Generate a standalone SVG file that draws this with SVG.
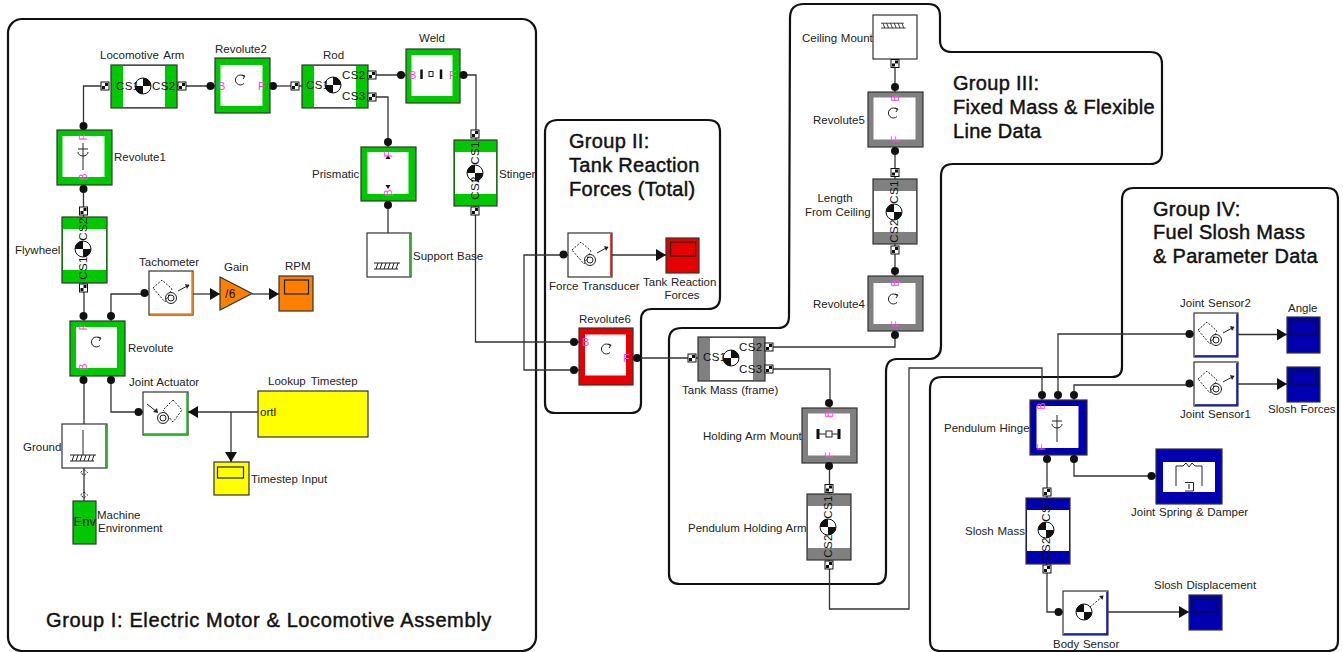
<svg xmlns="http://www.w3.org/2000/svg" width="1343" height="652" viewBox="0 0 1343 652">
<style>
text{font-family:"Liberation Sans",Arial,sans-serif;fill:#222}
.t{font-size:11.5px;word-spacing:.5px}
.c{font-size:11.5px;letter-spacing:.4px;fill:#111}
.p{font-size:11px;fill:#ff40e0}
.h{font-size:20px;stroke:#111;stroke-width:.45px;letter-spacing:.3px;fill:#111}
.wide{letter-spacing:.62px}
.o{stroke:#333;stroke-width:1.2px}
.g{fill:#00c800}.r{fill:#e60000}.k{fill:#808080}.b{fill:#0000b0}.w{fill:#fff}.y{fill:#ffff00}.n{fill:#ff8000}
.in{fill:#fff;stroke:none}
.l{fill:none;stroke:#333;stroke-width:1.3px}
.a{marker-end:url(#arrow)}
.grp{fill:none;stroke:#111;stroke-width:2.2px}
.i{fill:none;stroke:#222;stroke-width:1px}
.d{fill:none;stroke:#222;stroke-width:1px;stroke-dasharray:2 1.5}
</style>
<defs>
<marker id="arrow" markerUnits="userSpaceOnUse" markerWidth="11" markerHeight="12" refX="10" refY="6" orient="auto"><path d="M0,0L10,6L0,12Z" fill="#111"/></marker>
<g id="dot"><circle r="4" fill="#111"/></g>
<g id="port"><rect x="-4" y="-4" width="8" height="8" fill="#fff" stroke="#111"/><rect x="-3" y="0" width="3" height="3" fill="#111"/><rect x="0" y="-3" width="3" height="3" fill="#111"/></g>
<g id="cg"><circle r="8" fill="#fff" stroke="#111"/><path d="M0,0V-8A8,8 0 0 1 8,0ZM0,0V8A8,8 0 0 1 -8,0Z" fill="#111"/></g>
<g id="rev"><path d="M4,-3.5A5,5 0 1 0 4,3.5" class="i"/><path d="M2,-5L5,-4L3,-1" class="i"/></g>
<g id="axis"><path d="M0,0V27M-5,6H5M-5,9A5,4 0 0 0 5,9" class="i" stroke-width="1.3"/></g>
<g id="sensor"><path d="M4,17L13,9L23,18L16,31Z" class="d"/><circle cx="22" cy="27" r="5.5" class="i"/><circle cx="22" cy="27" r="3" class="i"/><path d="M29,20L40,14" class="i"/><path d="M36,13L40.500,14L38,18" fill="#222"/></g>
<g id="act"><path d="M30,8L39,18L30,30L20,18Z" class="d"/><circle cx="20" cy="26" r="5.500" class="i"/><circle cx="20" cy="26" r="3" class="i"/><path d="M4,12L14,20" class="i"/><path d="M10,20L15,21L14,16" fill="#222"/></g>
<g id="hatch"><path d="M0,0H26M2,6L4,0M6,6L8,0M10,6L12,0M14,6L16,0M18,6L20,0M22,6L24,0" class="i"/><path d="M0,6H24" class="i"/></g>
</defs>
<g id="groups">
<rect id="group1" class="grp" x="8" y="19" width="528" height="632" rx="14"/>
<path id="group2" class="grp" d="M545,133Q545,120 558,120L708,120Q720,120 720,132L720,297Q720,309 708,309L652,309Q641,309 641,320L641,403Q641,413 631,413L555,413Q545,413 545,403Z"/>
<path id="group3" class="grp" d="M790,18Q790,4 804,4L928,4Q940,4 940,16L940,40Q940,52 952,52L1150,52Q1162,52 1162,64L1162,152Q1162,164 1150,164L953,164Q941,164 941,176L941,346Q941,358 930,359L897,359Q886,359 886,372L886,572Q886,584 876,584L680,584Q669,584 669,574L669,340Q669,328 682,328L778,328Q789,328 789,316Z"/>
<path id="group4" class="grp" d="M930,641L930,389Q930,377 942,377L1112,377Q1122,377 1122,367L1122,200Q1122,188 1134,188L1327,188Q1338,188 1338,200L1338,641Q1338,651 1328,651L940,651Q930,651 930,641Z"/>
</g>
<g id="connectors">
<path class="l" d="M83.500,126V86H105"/>
<path class="l" d="M83.500,185V217"/>
<path class="l" d="M177,86H215"/>
<path class="l" d="M270,86H302"/>
<path class="l" d="M368,75H406"/>
<path class="l" d="M368,97H388V147"/>
<path class="l" d="M388,201V233"/>
<path class="l" d="M460,75H476V140"/>
<path class="l" d="M475.500,206V342H579"/>
<path class="l" d="M579,370H524V255H568"/>
<path class="l a" d="M612,255H666"/>
<path class="l" d="M633,358H698"/>
<path class="l" d="M765,347H895V331"/>
<path class="l" d="M765,369H830V408"/>
<path class="l" d="M829.500,463V494"/>
<path class="l" d="M829.500,560V609H909V368H1042V400"/>
<path class="l" d="M1058,400V334H1194"/>
<path class="l" d="M1074,400V385H1194"/>
<path class="l a" d="M1238,334.500H1287"/>
<path class="l a" d="M1238,384H1287"/>
<path class="l" d="M1047,455V498"/>
<path class="l" d="M1074,455V476H1156"/>
<path class="l" d="M1047,564V612H1063"/>
<path class="l a" d="M1108,612H1189"/>
<path class="l" d="M895,59V92"/>
<path class="l" d="M895,147V179"/>
<path class="l" d="M895,244V276"/>
<path class="l" d="M84,283V321"/>
<path class="l" d="M111,321V294H149"/>
<path class="l a" d="M193,294H220"/>
<path class="l a" d="M252,294H279"/>
<path class="l" d="M84,376V424"/>
<path class="l" d="M111,376V412H143"/>
<path class="l a" d="M258,412H188"/>
<path class="l a" d="M231,412V462"/>
<path class="l" d="M84,468V501"/>
</g>
<g id="locomotive-arm"><text class="t" x="100" y="59" style="word-spacing:2px">Locomotive Arm</text><rect class="g o" x="111" y="65" width="66" height="43"/><rect class="in" x="123" y="66" width="42" height="41"/><use href="#cg" x="143" y="86"/><text class="c" x="116" y="90">CS1</text><text class="c" x="152" y="90">CS2</text><use href="#port" x="105" y="86"/><use href="#port" x="182" y="86"/></g>
<g id="revolute2"><text class="t" x="215" y="53">Revolute2</text><rect class="g o" x="215" y="58" width="55" height="55"/><rect class="in" x="220.500" y="65" width="42" height="41"/><use href="#rev" x="240" y="80"/><text class="p" x="218" y="90">B</text><text class="p" x="258" y="90">F</text><use href="#dot" x="210.500" y="86"/><use href="#dot" x="273" y="86"/></g>
<g id="rod"><text class="t" x="323" y="59">Rod</text><rect class="g o" x="302" y="65" width="66" height="43"/><rect class="in" x="314" y="66" width="42" height="41"/><use href="#cg" x="333" y="85"/><text class="c" x="306" y="89">CS1</text><text class="c" x="342" y="79">CS2</text><text class="c" x="342" y="100">CS3</text><use href="#port" x="295" y="86"/><use href="#port" x="372" y="75"/><use href="#port" x="372" y="97"/></g>
<g id="weld"><text class="t" x="419" y="42">Weld</text><rect class="g o" x="406" y="49" width="54" height="54"/><rect class="in" x="411.500" y="55" width="41" height="41"/><path d="M421.500,69.500V79M441,69.500V79" stroke="#111" stroke-width="2.500"/><rect class="i" x="429" y="71.500" width="4" height="5"/><text class="p" x="409" y="79">B</text><text class="p" x="449" y="79">F</text><use href="#dot" x="401" y="75"/><use href="#dot" x="463.500" y="75"/></g>
<g id="revolute1"><text class="t" x="114" y="161">Revolute1</text><rect class="g o" x="57" y="130" width="55" height="55"/><rect class="in" x="62.500" y="136" width="42" height="41"/><use href="#axis" x="83" y="143"/><text class="p" transform="rotate(-90 87 137)" x="87" y="137" text-anchor="middle">F</text><text class="p" transform="rotate(-90 87 177)" x="87" y="177" text-anchor="middle">B</text><use href="#dot" x="83.500" y="126"/><use href="#dot" x="83.500" y="189"/></g>
<g id="prismatic"><text class="t" x="312" y="178">Prismatic</text><rect class="g o" x="361" y="147" width="55" height="54"/><rect class="in" x="367.500" y="152" width="41" height="42"/><path d="M388,155L385.500,159H390.500ZM388,189L385.500,185H390.500Z" fill="#111"/><text class="p" transform="rotate(-90 392 154)" x="392" y="154" text-anchor="middle">F</text><text class="p" transform="rotate(-90 392 193)" x="392" y="193" text-anchor="middle">B</text><use href="#dot" x="388" y="142"/><use href="#dot" x="388" y="205"/></g>
<g id="stinger"><text class="t" x="499" y="178">Stinger</text><rect class="g o" x="454" y="140" width="43" height="66"/><rect class="in" x="455" y="152" width="41" height="42"/><use href="#cg" transform="translate(475 173) rotate(-90)"/><text class="c" transform="rotate(-90 479 153)" x="479" y="153" text-anchor="middle">CS1</text><text class="c" transform="rotate(-90 479 188)" x="479" y="188" text-anchor="middle">CS2</text><use href="#port" x="475" y="134"/><use href="#port" x="475" y="211"/></g>
<g id="support-base"><text class="t" x="413" y="260">Support Base</text><rect class="w o" x="367" y="233" width="44" height="44"/><path d="M409.800,234V276" stroke="#00c800" stroke-width="1.500"/><use href="#hatch" x="374" y="263"/></g>
<g id="flywheel"><text class="t" x="15" y="254">Flywheel</text><rect class="g o" x="62" y="217" width="45" height="66"/><rect class="in" x="63" y="229" width="43" height="41"/><use href="#cg" transform="translate(83 249) rotate(-90)"/><text class="c" transform="rotate(-90 87 229)" x="87" y="229" text-anchor="middle">CS2</text><text class="c" transform="rotate(-90 87 268)" x="87" y="268" text-anchor="middle">CS1</text><use href="#port" x="83.500" y="211"/><use href="#port" x="83.500" y="288"/></g>
<g id="revolute"><text class="t" x="128" y="352">Revolute</text><rect class="g o" x="70" y="321" width="55" height="55"/><rect class="in" x="76" y="327" width="41" height="41"/><use href="#rev" x="96" y="342"/><text class="p" transform="rotate(-90 87 327)" x="87" y="327" text-anchor="middle">F</text><text class="p" transform="rotate(-90 87 367)" x="87" y="367" text-anchor="middle">B</text><use href="#dot" x="83.500" y="316"/><use href="#dot" x="111" y="316"/><use href="#dot" x="83.500" y="380"/><use href="#dot" x="111" y="380"/></g>
<g id="tachometer"><text class="t" x="139" y="266">Tachometer</text><rect class="w o" x="149" y="271" width="44" height="44"/><path d="M192,272V314H150" fill="none" stroke="#ff8000" stroke-width="1.500"/><use href="#sensor" x="149" y="271"/><use href="#dot" x="144.500" y="293"/></g>
<g id="gain"><text class="t" x="224" y="271">Gain</text><path class="n o" d="M220,277L252,293.500L220,310Z"/><text class="c" x="225" y="298" style="font-size:12px">/6</text></g>
<g id="rpm"><text class="t" x="285" y="270">RPM</text><rect class="n o" x="279" y="276" width="34" height="35"/><rect x="284.500" y="280" width="24" height="14" fill="none" stroke="#222" stroke-width="1.200"/></g>
<g id="joint-actuator"><text class="t" x="129" y="386">Joint Actuator</text><rect class="w o" x="143" y="392" width="45" height="43"/><path d="M187,393V434H144" fill="none" stroke="#00c800" stroke-width="1.500"/><use href="#act" x="143" y="392"/><use href="#dot" x="138.500" y="412"/></g>
<g id="lookup-timestep"><text class="t" x="268" y="385" style="word-spacing:2px">Lookup Timestep</text><rect class="y o" x="258" y="391" width="110" height="46"/><text class="c" x="260" y="416" style="letter-spacing:0">ortl</text></g>
<g id="timestep-input"><text class="t" x="251" y="483">Timestep Input</text><rect class="y o" x="214" y="462" width="35" height="33"/><rect x="217.500" y="467" width="26" height="11" fill="none" stroke="#222" stroke-width="1.200"/></g>
<g id="ground"><text class="t" x="23" y="451">Ground</text><rect class="w o" x="62" y="424" width="45" height="44"/><path d="M105.800,425V467" stroke="#00c800" stroke-width="1.500"/><path d="M83,430V455" class="i"/><use href="#hatch" x="70" y="455"/><path d="M84,469.500L87.500,472.500L84,475.500L80.500,472.500Z" class="d" fill="#fff"/></g>
<g id="machine-environment"><text class="t" x="97" y="519">Machine</text><text class="t" x="98" y="532">Environment</text><rect class="g o" x="73" y="501" width="23" height="43"/><text x="73.500" y="526" style="font-size:13px;fill:#111">Env</text><path d="M84,492L87.500,495L84,498L80.500,495Z" class="d" fill="#fff"/></g>
<g id="force-transducer"><text class="t" x="549" y="290">Force Transducer</text><rect class="w o" x="568" y="233" width="44" height="44"/><path d="M611,234V276" stroke="#e60000" stroke-width="1.500"/><use href="#sensor" x="568" y="233"/><use href="#dot" x="563.500" y="254.500"/></g>
<g id="tank-reaction-forces"><text class="t" x="643" y="286">Tank Reaction</text><text class="t" x="682" y="299" text-anchor="middle">Forces</text><rect class="r o" x="666" y="238" width="33" height="35"/><rect x="670.500" y="242" width="25" height="14" fill="none" stroke="#222" stroke-width="1.200"/></g>
<g id="revolute6"><text class="t" x="579" y="323">Revolute6</text><rect class="r o" x="579" y="328" width="54" height="57"/><rect class="in" x="585" y="334.500" width="41" height="41"/><use href="#rev" x="606" y="349"/><text class="p" x="582" y="346">B</text><text class="p" x="623" y="362">F</text><use href="#dot" x="574" y="342"/><use href="#dot" x="574" y="370"/><use href="#dot" x="637" y="358"/></g>
<g id="tank-mass"><text class="t" x="682" y="394">Tank Mass (frame)</text><rect class="k o" x="698" y="337" width="67" height="44"/><rect class="in" x="710" y="338" width="43" height="42"/><use href="#cg" x="731" y="358"/><text class="c" x="703" y="361">CS1</text><text class="c" x="739" y="351">CS2</text><text class="c" x="739" y="373">CS3</text><use href="#port" x="692" y="358"/><use href="#port" x="769" y="347"/><use href="#port" x="769" y="369"/></g>
<g id="ceiling-mount"><text class="t" x="802" y="42">Ceiling Mount</text><rect class="w o" x="873" y="15" width="44" height="44"/><g transform="translate(881 28) scale(1 -1)"><use href="#hatch" transform="scale(.95 .8)"/></g><use href="#port" x="895" y="63.500"/></g>
<g id="revolute5"><text class="t" x="813" y="124">Revolute5</text><rect class="k o" x="868" y="92" width="55" height="55"/><rect class="in" x="873.500" y="97.500" width="42" height="42"/><use href="#rev" x="893" y="113"/><text class="p" transform="rotate(-90 899 98)" x="899" y="98" text-anchor="middle">B</text><text class="p" transform="rotate(-90 899 139)" x="899" y="139" text-anchor="middle">F</text><use href="#dot" x="895" y="87"/><use href="#dot" x="895" y="151"/></g>
<g id="length-from-ceiling"><text class="t" x="835" y="202" text-anchor="middle">Length</text><text class="t" x="805" y="216">From Ceiling</text><rect class="k o" x="873" y="179" width="44" height="65"/><rect class="in" x="874" y="191" width="42" height="41"/><use href="#cg" transform="translate(894 212) rotate(-90)"/><text class="c" transform="rotate(-90 898 192)" x="898" y="192" text-anchor="middle">CS1</text><text class="c" transform="rotate(-90 898 231)" x="898" y="231" text-anchor="middle">CS2</text><use href="#port" x="895" y="172.500"/><use href="#port" x="895" y="250"/></g>
<g id="revolute4"><text class="t" x="813" y="308">Revolute4</text><rect class="k o" x="868" y="276" width="55" height="55"/><rect class="in" x="873.500" y="283" width="42" height="41"/><use href="#rev" x="893" y="299"/><text class="p" transform="rotate(-90 899 283)" x="899" y="283" text-anchor="middle">B</text><text class="p" transform="rotate(-90 899 324)" x="899" y="324" text-anchor="middle">F</text><use href="#dot" x="895" y="271"/><use href="#dot" x="895" y="335"/></g>
<g id="holding-arm-mount"><text class="t" x="703" y="440">Holding Arm Mount</text><rect class="k o" x="802" y="408" width="55" height="55"/><rect class="in" x="808" y="413.500" width="42" height="42"/><path d="M818,429V439M839,429V439" stroke="#111" stroke-width="3"/><path d="M818,434H839" class="i"/><rect x="826" y="431" width="6" height="6" class="i" style="fill:#fff"/><text class="p" transform="rotate(-90 833 414)" x="833" y="414" text-anchor="middle">B</text><text class="p" transform="rotate(-90 833 455)" x="833" y="455" text-anchor="middle">F</text><use href="#dot" x="829" y="403"/><use href="#dot" x="829" y="466"/></g>
<g id="pendulum-holding-arm"><text class="t" x="688" y="532">Pendulum Holding Arm</text><rect class="k o" x="807" y="494" width="44" height="66"/><rect class="in" x="808" y="506" width="42" height="42"/><use href="#cg" transform="translate(828 527) rotate(-90)"/><text class="c" transform="rotate(-90 832 507)" x="832" y="507" text-anchor="middle">CS1</text><text class="c" transform="rotate(-90 832 546)" x="832" y="546" text-anchor="middle">CS2</text><use href="#port" x="829" y="488.500"/><use href="#port" x="829" y="565"/></g>
<g id="pendulum-hinge"><text class="t" x="944" y="432">Pendulum Hinge</text><rect class="b o" x="1030" y="400" width="57" height="55"/><rect class="in" x="1036.500" y="406" width="42" height="42"/><use href="#axis" x="1057" y="415"/><text class="p" transform="rotate(-90 1045 406)" x="1045" y="406" text-anchor="middle">B</text><text class="p" transform="rotate(-90 1045 447)" x="1045" y="447" text-anchor="middle">F</text><use href="#dot" x="1042" y="395"/><use href="#dot" x="1058" y="395"/><use href="#dot" x="1074" y="395"/><use href="#dot" x="1047" y="459"/><use href="#dot" x="1074" y="459"/></g>
<g id="joint-sensor2"><text class="t" x="1180" y="307">Joint Sensor2</text><rect class="w o" x="1194" y="313" width="44" height="44"/><path d="M1237,314V356H1195" fill="none" stroke="#0000b0" stroke-width="1.500"/><use href="#sensor" x="1194" y="313"/><use href="#dot" x="1189.500" y="334"/></g>
<g id="joint-sensor1"><text class="t" x="1180" y="418">Joint Sensor1</text><rect class="w o" x="1194" y="362" width="44" height="44"/><path d="M1237,363V405H1195" fill="none" stroke="#0000b0" stroke-width="1.500"/><use href="#sensor" x="1194" y="362"/><use href="#dot" x="1189.500" y="383.500"/></g>
<g id="angle"><text class="t" x="1288" y="312">Angle</text><rect class="b o" x="1287" y="317" width="33" height="36"/><rect x="1291" y="321" width="25" height="14" fill="none" stroke="#111" stroke-width="1"/></g>
<g id="slosh-forces"><text class="t" x="1268" y="413">Slosh Forces</text><rect class="b o" x="1287" y="367" width="33" height="35"/><rect x="1291" y="371" width="25" height="14" fill="none" stroke="#111" stroke-width="1"/></g>
<g id="joint-spring-damper"><text class="t" x="1131" y="516">Joint Spring &amp; Damper</text><rect class="b o" x="1156" y="449" width="66" height="55"/><rect class="in" x="1163" y="462" width="52" height="30"/><path d="M1176,486V466H1183L1186,463L1189,467L1192,463L1195,466H1202V486" class="i"/><path d="M1185,482.500H1193.500V491H1185" class="i"/><path d="M1189,484V489" stroke="#111"/><use href="#dot" x="1151.500" y="476"/></g>
<g id="slosh-mass"><text class="t" x="965" y="535">Slosh Mass</text><rect class="b o" x="1026" y="498" width="44" height="66"/><rect class="in" x="1027" y="510" width="42" height="41"/><use href="#cg" transform="translate(1046 530) rotate(-90)"/><text class="c" transform="rotate(-90 1050 510)" x="1050" y="510" text-anchor="middle">CS1</text><text class="c" transform="rotate(-90 1050 549)" x="1050" y="549" text-anchor="middle">CS2</text><use href="#port" x="1047" y="492"/><use href="#port" x="1047" y="569"/></g>
<g id="body-sensor"><text class="t" x="1053" y="648">Body Sensor</text><rect class="w o" x="1063" y="591" width="45" height="44"/><path d="M1107,592V634H1064" fill="none" stroke="#0000b0" stroke-width="1.500"/><use href="#cg" transform="translate(1084 612) rotate(-90)"/><path d="M1090,607L1103,596" class="d"/><path d="M1099,596L1103.500,595.500L1102.500,600Z" fill="#222"/><use href="#dot" x="1058.500" y="612"/></g>
<g id="slosh-displacement"><text class="t" x="1154" y="589">Slosh Displacement</text><rect class="b o" x="1189" y="595" width="33" height="35"/><rect x="1193" y="599" width="24" height="13" fill="none" stroke="#111" stroke-width="1"/></g>
<g id="labels">
<text class="h wide" x="46" y="627">Group I: Electric Motor &amp; Locomotive Assembly</text>
<text class="h" x="569" y="148">Group II:</text><text class="h" x="569" y="172">Tank Reaction</text><text class="h" x="569" y="196">Forces (Total)</text>
<text class="h" x="953" y="90">Group III:</text><text class="h" x="953" y="114">Fixed Mass &amp; Flexible</text><text class="h" x="953" y="138">Line Data</text>
<text class="h" x="1153" y="216">Group IV:</text><text class="h" x="1153" y="239">Fuel Slosh Mass</text><text class="h" x="1153" y="263">&amp; Parameter Data</text>
</g>
</svg>
